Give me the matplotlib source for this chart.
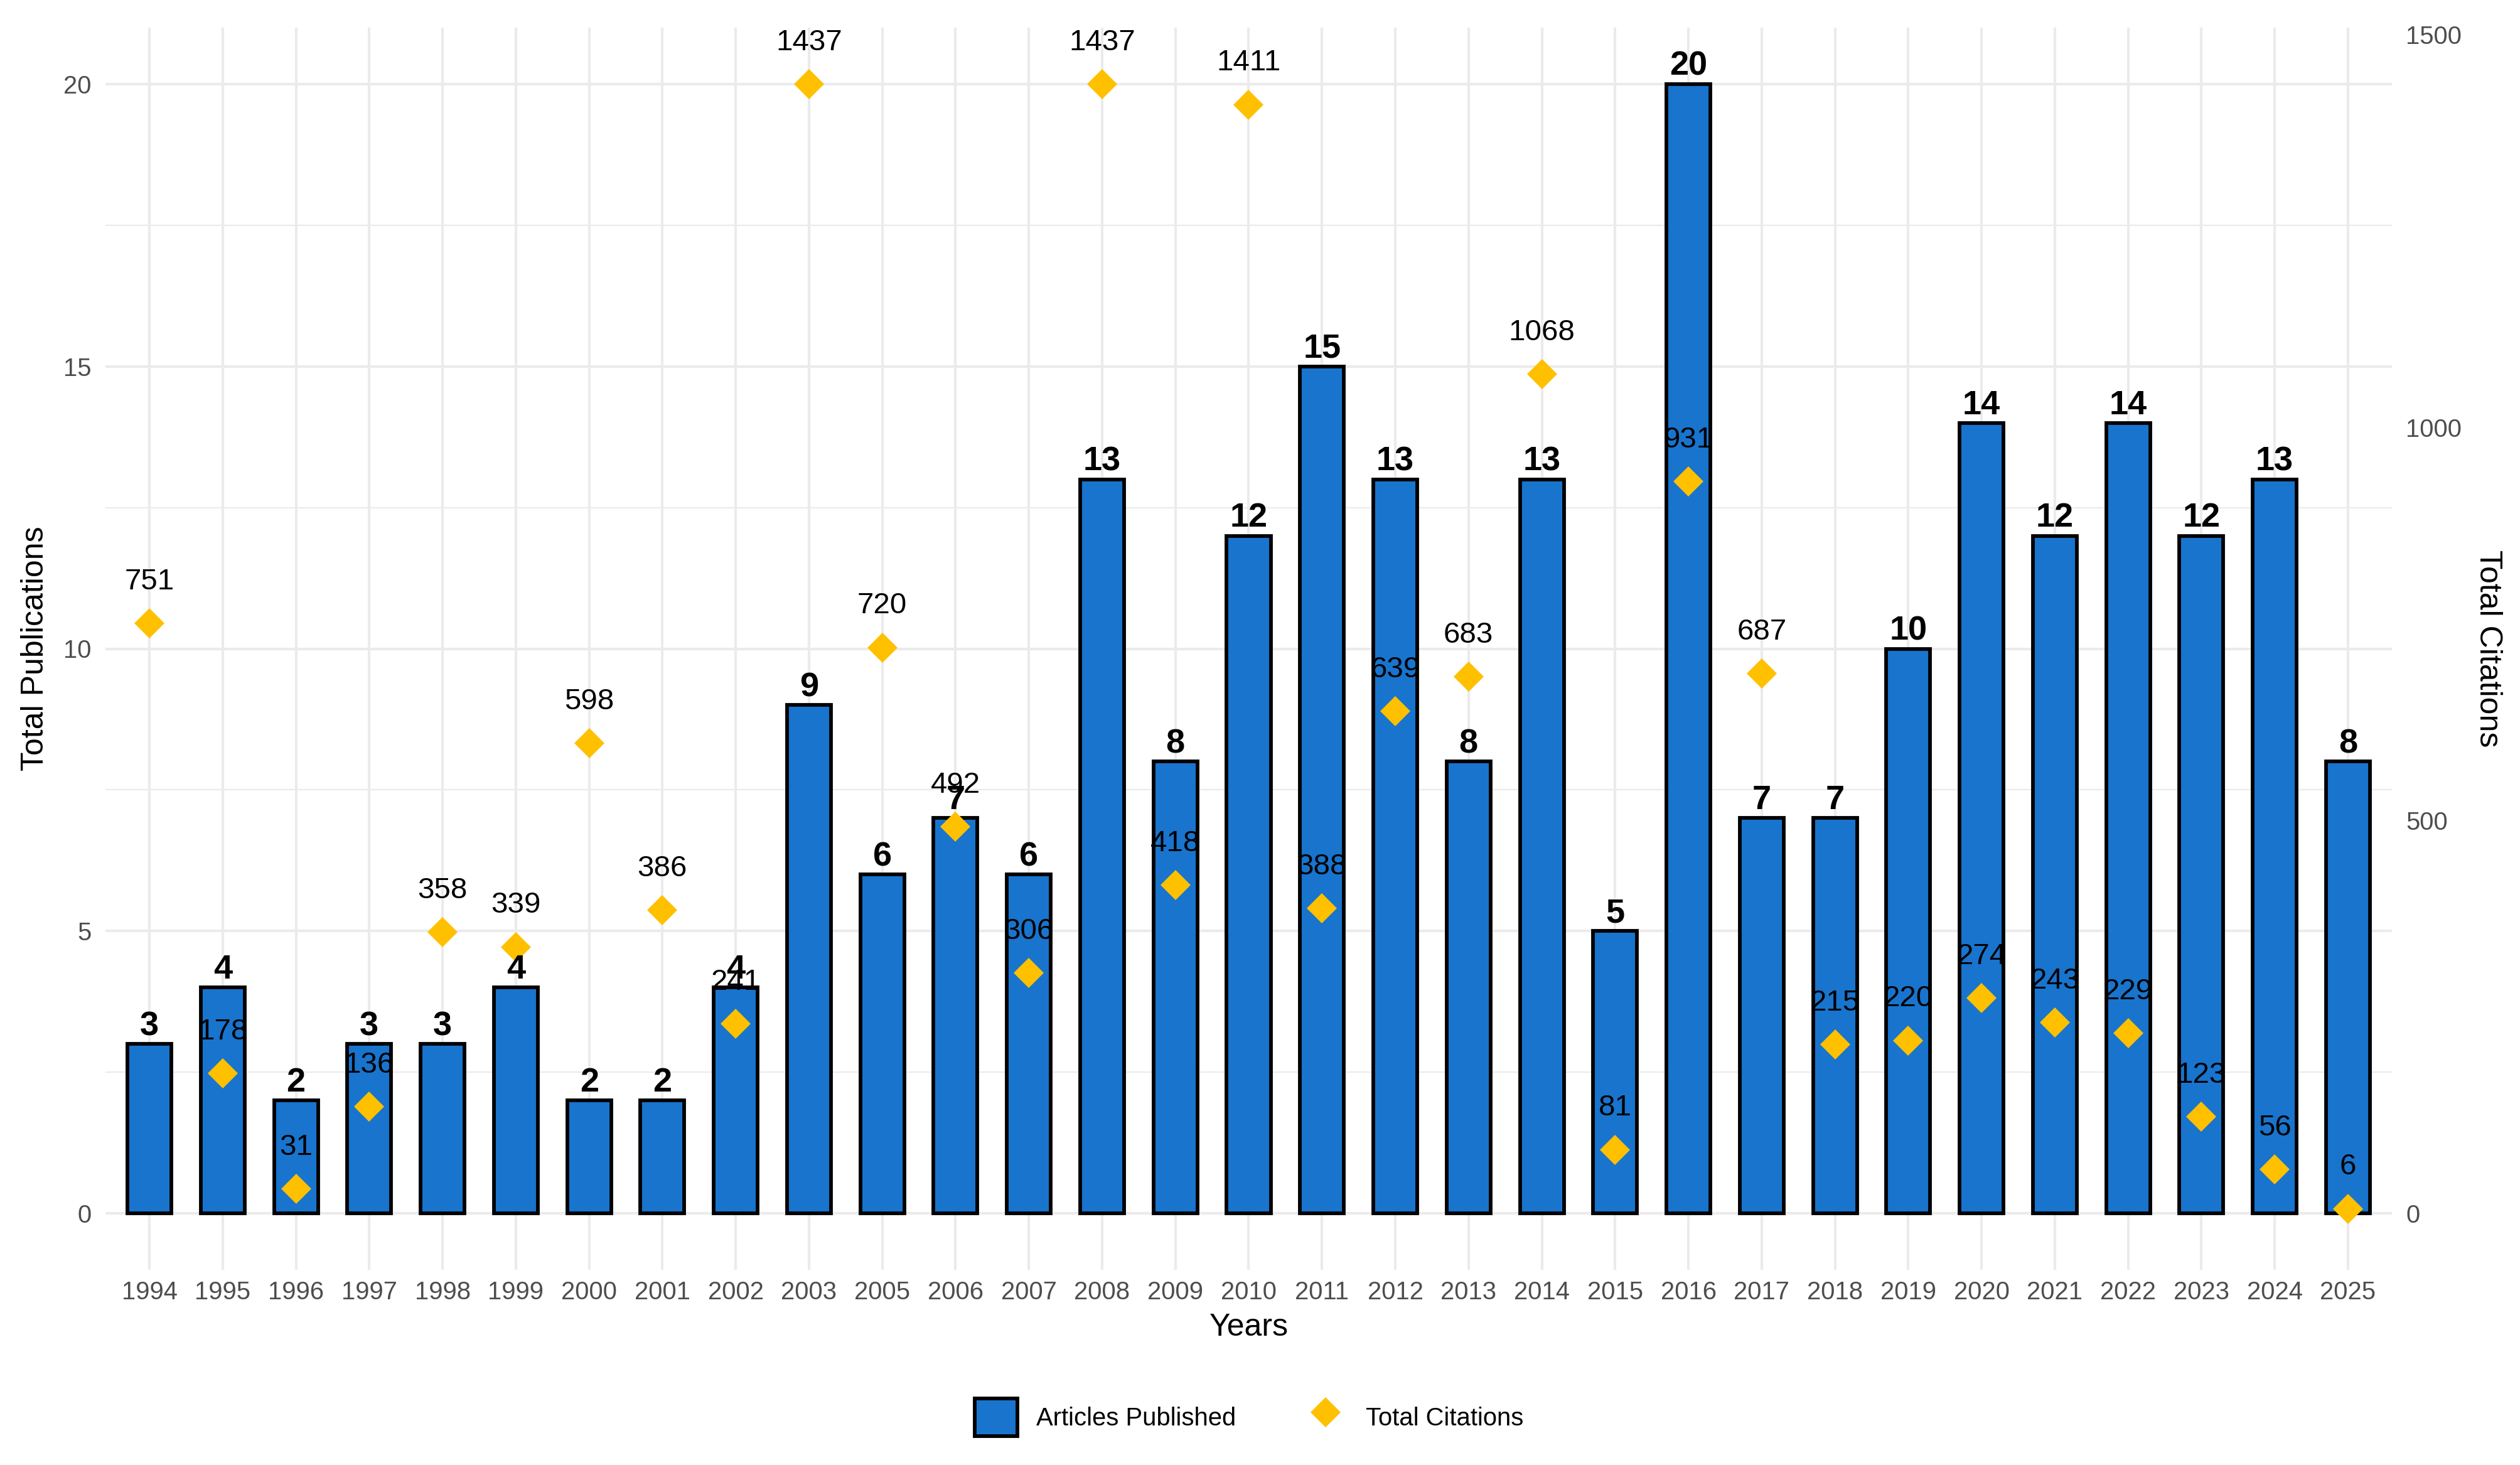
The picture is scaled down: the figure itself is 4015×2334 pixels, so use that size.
import numpy as np
import matplotlib
matplotlib.use('Agg')
import matplotlib.pyplot as plt
from matplotlib.patches import Patch
from matplotlib.lines import Line2D

plt.rcParams['font.family'] = ['Liberation Sans', 'DejaVu Sans']

years = ['1994', '1995', '1996', '1997', '1998', '1999', '2000', '2001', '2002', '2003',
         '2005', '2006', '2007', '2008', '2009', '2010', '2011', '2012', '2013', '2014',
         '2015', '2016', '2017', '2018', '2019', '2020', '2021', '2022', '2023', '2024', '2025']
publications = [3, 4, 2, 3, 3, 4, 2, 2, 4, 9,
                6, 7, 6, 13, 8, 12, 15, 13, 8, 13,
                5, 20, 7, 7, 10, 14, 12, 14, 12, 13, 8]
citations = [751, 178, 31, 136, 358, 339, 598, 386, 241, 1437,
             720, 492, 306, 1437, 418, 1411, 388, 639, 683, 1068,
             81, 931, 687, 215, 220, 274, 243, 229, 123, 56, 6]

bar_color = '#1874CD'
point_color = '#FFC000'
grid_color = '#EBEBEB'
tick_color = '#4D4D4D'

# secondary axis scale: max citations mapped onto max publications
scale = max(citations) / max(publications)

W, H = 4015, 2334
fig = plt.figure(figsize=(W / 300, H / 300), dpi=300)
left, right, top, bottom = 168, 3811, 44, 2023
ax = fig.add_axes([left / W, 1 - bottom / H, (right - left) / W, (bottom - top) / H])

x = np.arange(len(years))
ax.bar(x, publications, width=0.6, color=bar_color, edgecolor='black', linewidth=1.4, zorder=2)
cit_scaled = [c / scale for c in citations]
ax.plot(x, cit_scaled, linestyle='none', marker='D', markersize=8.0,
        color=point_color, markeredgewidth=0, zorder=3)

for xi, p in zip(x, publications):
    ax.annotate(str(p), (xi, p), xytext=(0, 3.4), textcoords='offset points',
                ha='center', va='baseline', fontsize=13, fontweight='bold', zorder=4)
for xi, c, cs in zip(x, citations, cit_scaled):
    ax.annotate(str(c), (xi, cs), xytext=(0, 13.0), textcoords='offset points',
                ha='center', va='baseline', fontsize=11.4, zorder=4)

ax.set_xlim(-0.6, len(years) - 0.4)
ax.set_ylim(-1, 21)
ax.set_xticks(x)
ax.set_xticklabels(years)
ax.set_yticks([0, 5, 10, 15, 20])
ax.set_yticks([2.5, 7.5, 12.5, 17.5], minor=True)
ax.set_axisbelow(True)
ax.grid(which='major', color=grid_color, linewidth=1.0, zorder=0)
ax.grid(which='minor', axis='y', color=grid_color, linewidth=0.55, zorder=0)
ax.tick_params(which='both', length=0)
ax.tick_params(axis='x', labelsize=9.6, labelcolor=tick_color, pad=4)
ax.tick_params(axis='y', labelsize=9.6, labelcolor=tick_color, pad=5.3)
for s in ax.spines.values():
    s.set_visible(False)

sec = ax.secondary_yaxis('right', functions=(lambda y: y * scale, lambda y: y / scale))
sec.set_yticks([0, 500, 1000, 1500])
sec.tick_params(length=0, labelsize=9.6, labelcolor=tick_color, pad=5.3)
sec.spines['right'].set_visible(False)

ymid = 1 - (top + bottom) / 2 / H
fig.text(56 / W, ymid, 'Total Publications', rotation=90, ha='center', va='center', fontsize=12)
fig.text(3964 / W, ymid, 'Total Citations', rotation=-90, ha='center', va='center', fontsize=12)
fig.text((left + right) / 2 / W, 1 - 2115 / H, 'Years', ha='center', va='center', fontsize=12)

handles = [Patch(facecolor=bar_color, edgecolor='black', linewidth=1.4),
           Line2D([], [], linestyle='none', marker='D', markersize=8.0,
                  color=point_color, markeredgewidth=0)]
fig.legend(handles, ['Articles Published', 'Total Citations'], loc='center',
           bbox_to_anchor=(0.4957, 1 - 2258 / H), ncol=2, frameon=False,
           fontsize=9.6, handlelength=1.7, handleheight=1.9, handletextpad=0.77,
           columnspacing=2.7)

fig.savefig('out.png', dpi=300)
